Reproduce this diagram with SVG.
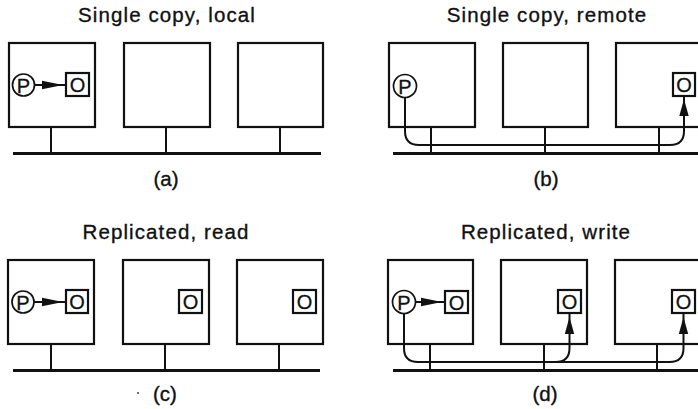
<svg xmlns="http://www.w3.org/2000/svg" width="698" height="409" viewBox="0 0 698 409">
<style>
.bg{fill:#fff}
.box{fill:#fff;stroke:#111;stroke-width:2.2}
.bus{stroke:#111;stroke-width:2.8;fill:none}
.stem{stroke:#111;stroke-width:2}
.route{stroke:#111;stroke-width:2;fill:none}
.proc{fill:#fff;stroke:#111;stroke-width:1.7}
.obj{fill:#fff;stroke:#111;stroke-width:2.2}
.ah{fill:#111;stroke:none}
.title{font-family:"Liberation Sans",Arial,sans-serif;font-size:20.5px;letter-spacing:1.1px;fill:#111;stroke:#111;stroke-width:0.35;text-anchor:middle}
.cap{font-family:"Liberation Sans",Arial,sans-serif;font-size:20.5px;fill:#111;stroke:#111;stroke-width:0.35;text-anchor:middle}
.lbl{font-family:"Liberation Sans",Arial,sans-serif;font-size:20px;fill:#111;stroke:#111;stroke-width:0.3;text-anchor:middle}
</style>
<defs>
<path id="ahR" class="ah" d="M0,0 L-21,-4.2 L-21,4.2 Z"/>
<path id="ahU" class="ah" d="M0,0 L-4.7,17 L4.7,17 Z"/>
</defs>
<rect class="bg" x="0" y="0" width="698" height="409"/>

<!-- titles and captions -->
<text class="title" x="167" y="22">Single copy, local</text>
<text class="title" x="547" y="22">Single copy, remote</text>
<text class="title" x="166" y="239">Replicated, read</text>
<text class="title" x="546" y="239">Replicated, write</text>
<text class="cap" x="166" y="186">(a)</text>
<text class="cap" x="546" y="186">(b)</text>
<text class="cap" x="165" y="401">(c)</text>
<text class="cap" x="545" y="401">(d)</text>
<circle cx="138" cy="393" r="0.9" fill="#333"/>

<!-- panel a -->
<g id="a-machine1"><rect class="box" x="9" y="43" width="86" height="84"/></g>
<g id="a-machine2"><rect class="box" x="124" y="43" width="86" height="84"/></g>
<g id="a-machine3"><rect class="box" x="238" y="43" width="85" height="84"/></g>
<g id="a-P"><circle class="proc" cx="23.5" cy="85" r="11"/><text class="lbl" x="23.5" y="92.5">P</text></g>
<g id="a-O"><rect class="obj" x="66" y="73" width="23" height="23"/><text class="lbl" x="77.5" y="92">O</text></g>

<!-- panel b -->
<g id="b-machine1"><rect class="box" x="389" y="43" width="86" height="84"/></g>
<g id="b-machine2"><rect class="box" x="503" y="43" width="85" height="84"/></g>
<g id="b-machine3"><rect class="box" x="616" y="43" width="86" height="84"/></g>
<g id="b-P"><circle class="proc" cx="405" cy="86" r="11.5"/><text class="lbl" x="405" y="93.5">P</text></g>
<g id="b-O"><rect class="obj" x="673" y="73" width="22" height="23"/><text class="lbl" x="684" y="92">O</text></g>

<!-- panel c -->
<g id="c-machine1"><rect class="box" x="8" y="260" width="86" height="84"/></g>
<g id="c-machine2"><rect class="box" x="123" y="260" width="86" height="84"/></g>
<g id="c-machine3"><rect class="box" x="237" y="260" width="86" height="84"/></g>
<g id="c-P"><circle class="proc" cx="23" cy="302" r="11"/><text class="lbl" x="23" y="309.5">P</text></g>
<g id="c-O1"><rect class="obj" x="66" y="290" width="22" height="23"/><text class="lbl" x="77" y="309">O</text></g>
<g id="c-O2"><rect class="obj" x="179" y="290" width="23" height="23"/><text class="lbl" x="190.5" y="309">O</text></g>
<g id="c-O3"><rect class="obj" x="293" y="290" width="23" height="23"/><text class="lbl" x="304.5" y="309">O</text></g>

<!-- panel d -->
<g id="d-machine1"><rect class="box" x="388" y="260" width="85" height="84"/></g>
<g id="d-machine2"><rect class="box" x="501" y="260" width="86" height="84"/></g>
<g id="d-machine3"><rect class="box" x="615" y="260" width="86" height="84"/></g>
<g id="d-P"><circle class="proc" cx="404" cy="302" r="11.5"/><text class="lbl" x="404" y="309.5">P</text></g>
<g id="d-O1"><rect class="obj" x="445" y="291" width="23" height="22"/><text class="lbl" x="456.5" y="309.5">O</text></g>
<g id="d-O2"><rect class="obj" x="558" y="290" width="23" height="23"/><text class="lbl" x="569.5" y="309">O</text></g>
<g id="d-O3"><rect class="obj" x="672" y="290" width="23" height="23"/><text class="lbl" x="683.5" y="309">O</text></g>

<g id="connectors">
<!-- networks -->
<line class="bus" x1="13" y1="153.5" x2="321" y2="153.5"/>
<line class="stem" x1="51" y1="127" x2="51" y2="153.5"/>
<line class="stem" x1="166" y1="127" x2="166" y2="153.5"/>
<line class="stem" x1="280" y1="127" x2="280" y2="153.5"/>

<line class="bus" x1="393" y1="153.5" x2="698" y2="153.5"/>
<line class="stem" x1="431" y1="127" x2="431" y2="153.5"/>
<line class="stem" x1="545" y1="127" x2="545" y2="153.5"/>
<line class="stem" x1="659" y1="127" x2="659" y2="153.5"/>

<line class="bus" x1="13" y1="370.5" x2="320" y2="370.5"/>
<line class="stem" x1="51" y1="344" x2="51" y2="370.5"/>
<line class="stem" x1="165" y1="344" x2="165" y2="370.5"/>
<line class="stem" x1="279" y1="344" x2="279" y2="370.5"/>

<line class="bus" x1="393" y1="370.5" x2="698" y2="370.5"/>
<line class="stem" x1="430" y1="344" x2="430" y2="370.5"/>
<line class="stem" x1="544" y1="344" x2="544" y2="370.5"/>
<line class="stem" x1="657" y1="344" x2="657" y2="370.5"/>

<!-- a: local access -->
<line class="route" x1="34.5" y1="85" x2="66" y2="85"/>
<use href="#ahR" x="63" y="85"/>

<!-- b: remote access -->
<path class="route" d="M405,97.5 V131 Q405,145 419,145 H670 Q684,145 684,131 V96"/>
<use href="#ahU" x="684" y="99"/>

<!-- c: local read -->
<line class="route" x1="34" y1="302" x2="66" y2="302"/>
<use href="#ahR" x="63" y="302"/>

<!-- d: write to all copies -->
<line class="route" x1="415.5" y1="302" x2="445" y2="302"/>
<use href="#ahR" x="442" y="302"/>
<path class="route" d="M404,313.5 V348 Q404,362 418,362 H669.5 Q683.5,362 683.5,348 V313"/>
<path class="route" d="M555.5,362 Q569.5,362 569.5,348 V313"/>
<use href="#ahU" x="569.5" y="317"/>
<use href="#ahU" x="683.5" y="317"/>
</g>
</svg>
